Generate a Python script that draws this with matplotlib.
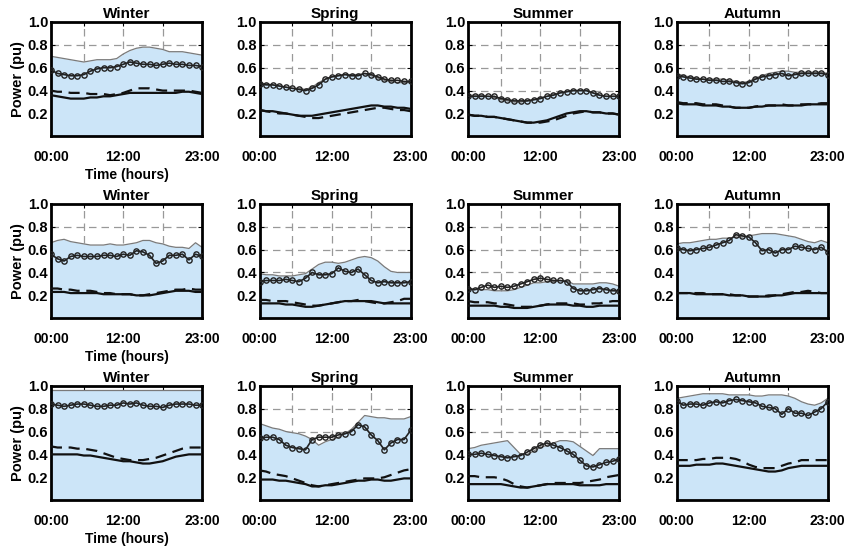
import numpy as np
import matplotlib
matplotlib.use('Agg')
from matplotlib import pyplot as plt

# Datos (24 horas, 00:00 - 23:00)
seasons = ['Winter', 'Spring', 'Summer', 'Autumn']
hours = np.arange(24)
xtick_pos = [0, 11, 23]
xtick_labels = ['00:00', '12:00', '23:00']
ytick_pos = [0.2, 0.4, 0.6, 0.8, 1.0]

# Fila 1
upper_row1 = [
    [0.70, 0.69, 0.68, 0.67, 0.66, 0.65, 0.66, 0.67, 0.67, 0.67, 0.68, 0.72, 0.75, 0.77, 0.78, 0.78, 0.77, 0.76, 0.74, 0.74, 0.74, 0.73, 0.72, 0.71],
    [0.46, 0.46, 0.45, 0.44, 0.43, 0.42, 0.42, 0.41, 0.43, 0.47, 0.50, 0.52, 0.53, 0.54, 0.54, 0.54, 0.55, 0.53, 0.51, 0.49, 0.48, 0.47, 0.47, 0.47],
    [0.36, 0.36, 0.36, 0.35, 0.34, 0.32, 0.31, 0.30, 0.30, 0.31, 0.32, 0.34, 0.35, 0.37, 0.38, 0.39, 0.40, 0.40, 0.40, 0.38, 0.36, 0.35, 0.35, 0.35],
    [0.55, 0.53, 0.52, 0.51, 0.50, 0.50, 0.50, 0.50, 0.49, 0.48, 0.47, 0.48, 0.51, 0.53, 0.55, 0.56, 0.57, 0.57, 0.56, 0.56, 0.56, 0.56, 0.56, 0.55],
]
circ_row1 = [
    [0.58, 0.55, 0.54, 0.53, 0.53, 0.54, 0.57, 0.59, 0.60, 0.60, 0.61, 0.63, 0.65, 0.64, 0.63, 0.63, 0.62, 0.63, 0.64, 0.63, 0.63, 0.62, 0.62, 0.61],
    [0.46, 0.45, 0.45, 0.44, 0.43, 0.42, 0.41, 0.40, 0.42, 0.45, 0.50, 0.52, 0.53, 0.54, 0.53, 0.53, 0.55, 0.54, 0.52, 0.50, 0.49, 0.49, 0.48, 0.48],
    [0.35, 0.35, 0.35, 0.35, 0.35, 0.33, 0.32, 0.31, 0.31, 0.31, 0.32, 0.33, 0.35, 0.36, 0.38, 0.39, 0.40, 0.40, 0.40, 0.38, 0.36, 0.35, 0.35, 0.35],
    [0.53, 0.52, 0.51, 0.50, 0.50, 0.49, 0.49, 0.48, 0.48, 0.47, 0.46, 0.47, 0.50, 0.52, 0.53, 0.54, 0.55, 0.53, 0.54, 0.55, 0.55, 0.55, 0.55, 0.54],
]
dash_row1 = [
    [0.40, 0.39, 0.39, 0.38, 0.38, 0.38, 0.37, 0.37, 0.37, 0.36, 0.37, 0.38, 0.40, 0.42, 0.42, 0.42, 0.41, 0.40, 0.40, 0.40, 0.40, 0.40, 0.39, 0.38],
    [0.23, 0.22, 0.21, 0.20, 0.20, 0.19, 0.18, 0.17, 0.16, 0.16, 0.17, 0.18, 0.19, 0.20, 0.21, 0.22, 0.23, 0.24, 0.25, 0.25, 0.24, 0.23, 0.23, 0.22],
    [0.19, 0.18, 0.18, 0.17, 0.17, 0.16, 0.15, 0.14, 0.13, 0.12, 0.12, 0.12, 0.13, 0.14, 0.16, 0.18, 0.20, 0.21, 0.22, 0.21, 0.21, 0.20, 0.20, 0.19],
    [0.30, 0.29, 0.29, 0.29, 0.28, 0.28, 0.28, 0.27, 0.26, 0.25, 0.25, 0.25, 0.26, 0.27, 0.27, 0.27, 0.28, 0.27, 0.27, 0.28, 0.28, 0.28, 0.29, 0.29],
]
solid_row1 = [
    [0.36, 0.35, 0.34, 0.33, 0.33, 0.33, 0.34, 0.34, 0.35, 0.35, 0.36, 0.37, 0.38, 0.38, 0.38, 0.38, 0.38, 0.38, 0.38, 0.38, 0.39, 0.39, 0.38, 0.37],
    [0.23, 0.22, 0.22, 0.21, 0.20, 0.19, 0.18, 0.18, 0.18, 0.19, 0.20, 0.21, 0.22, 0.23, 0.24, 0.25, 0.26, 0.27, 0.27, 0.26, 0.26, 0.25, 0.25, 0.24],
    [0.19, 0.18, 0.18, 0.17, 0.17, 0.16, 0.15, 0.14, 0.13, 0.12, 0.12, 0.13, 0.14, 0.16, 0.18, 0.20, 0.21, 0.22, 0.22, 0.21, 0.21, 0.20, 0.20, 0.19],
    [0.29, 0.28, 0.28, 0.28, 0.27, 0.27, 0.27, 0.26, 0.26, 0.25, 0.25, 0.25, 0.26, 0.26, 0.27, 0.27, 0.27, 0.27, 0.27, 0.27, 0.28, 0.28, 0.28, 0.28],
]

# Fila 2
upper_row2 = [
    [0.66, 0.68, 0.69, 0.67, 0.66, 0.65, 0.64, 0.64, 0.64, 0.65, 0.64, 0.64, 0.65, 0.66, 0.68, 0.68, 0.66, 0.65, 0.63, 0.62, 0.62, 0.61, 0.66, 0.62],
    [0.39, 0.38, 0.38, 0.37, 0.37, 0.37, 0.38, 0.39, 0.43, 0.47, 0.49, 0.49, 0.48, 0.49, 0.51, 0.53, 0.54, 0.53, 0.50, 0.45, 0.41, 0.40, 0.40, 0.40],
    [0.26, 0.25, 0.25, 0.25, 0.24, 0.24, 0.24, 0.25, 0.27, 0.29, 0.31, 0.31, 0.32, 0.32, 0.33, 0.33, 0.30, 0.30, 0.30, 0.30, 0.31, 0.31, 0.30, 0.28],
    [0.65, 0.66, 0.66, 0.67, 0.68, 0.69, 0.69, 0.70, 0.70, 0.71, 0.71, 0.72, 0.73, 0.74, 0.74, 0.74, 0.73, 0.72, 0.71, 0.69, 0.67, 0.66, 0.68, 0.66],
]
circ_row2 = [
    [0.56, 0.52, 0.50, 0.54, 0.55, 0.54, 0.54, 0.54, 0.55, 0.55, 0.54, 0.56, 0.55, 0.59, 0.58, 0.55, 0.48, 0.50, 0.55, 0.55, 0.56, 0.51, 0.56, 0.54],
    [0.32, 0.33, 0.33, 0.33, 0.34, 0.33, 0.32, 0.35, 0.40, 0.38, 0.38, 0.39, 0.44, 0.41, 0.40, 0.43, 0.38, 0.33, 0.31, 0.32, 0.31, 0.31, 0.31, 0.32],
    [0.26, 0.25, 0.27, 0.29, 0.27, 0.28, 0.27, 0.28, 0.30, 0.32, 0.34, 0.35, 0.34, 0.33, 0.33, 0.32, 0.26, 0.24, 0.24, 0.25, 0.26, 0.25, 0.24, 0.24],
    [0.61, 0.60, 0.59, 0.60, 0.61, 0.62, 0.64, 0.66, 0.68, 0.73, 0.72, 0.71, 0.66, 0.59, 0.60, 0.57, 0.60, 0.60, 0.63, 0.62, 0.61, 0.60, 0.62, 0.58],
]
dash_row2 = [
    [0.26, 0.26, 0.25, 0.25, 0.24, 0.24, 0.24, 0.23, 0.22, 0.22, 0.21, 0.21, 0.21, 0.20, 0.20, 0.21, 0.22, 0.23, 0.24, 0.25, 0.25, 0.26, 0.25, 0.25],
    [0.16, 0.16, 0.15, 0.15, 0.15, 0.14, 0.13, 0.12, 0.11, 0.11, 0.12, 0.13, 0.14, 0.15, 0.15, 0.16, 0.15, 0.14, 0.13, 0.13, 0.14, 0.15, 0.17, 0.17],
    [0.15, 0.14, 0.14, 0.14, 0.13, 0.13, 0.12, 0.11, 0.10, 0.10, 0.10, 0.11, 0.12, 0.13, 0.13, 0.13, 0.13, 0.12, 0.12, 0.13, 0.13, 0.14, 0.15, 0.15],
    [0.22, 0.22, 0.22, 0.22, 0.22, 0.21, 0.21, 0.21, 0.21, 0.20, 0.20, 0.19, 0.19, 0.19, 0.20, 0.20, 0.21, 0.22, 0.23, 0.23, 0.24, 0.23, 0.22, 0.22],
]
solid_row2 = [
    [0.23, 0.23, 0.23, 0.22, 0.22, 0.22, 0.22, 0.22, 0.21, 0.21, 0.21, 0.21, 0.21, 0.20, 0.20, 0.20, 0.21, 0.22, 0.23, 0.24, 0.24, 0.24, 0.23, 0.23],
    [0.13, 0.13, 0.13, 0.13, 0.12, 0.12, 0.11, 0.10, 0.10, 0.11, 0.12, 0.13, 0.14, 0.15, 0.15, 0.15, 0.15, 0.15, 0.14, 0.13, 0.13, 0.13, 0.13, 0.13],
    [0.11, 0.11, 0.11, 0.11, 0.11, 0.10, 0.10, 0.09, 0.09, 0.09, 0.10, 0.11, 0.12, 0.12, 0.12, 0.12, 0.11, 0.11, 0.10, 0.10, 0.11, 0.11, 0.11, 0.11],
    [0.22, 0.22, 0.22, 0.21, 0.21, 0.21, 0.21, 0.21, 0.20, 0.20, 0.20, 0.19, 0.19, 0.19, 0.19, 0.20, 0.20, 0.21, 0.22, 0.22, 0.22, 0.22, 0.22, 0.22],
]

# Fila 3
upper_row3 = [
    [0.96] * 24,
    [0.67, 0.65, 0.63, 0.62, 0.60, 0.59, 0.58, 0.56, 0.53, 0.48, 0.51, 0.53, 0.55, 0.58, 0.62, 0.68, 0.74, 0.73, 0.72, 0.72, 0.71, 0.71, 0.71, 0.73],
    [0.45, 0.46, 0.48, 0.49, 0.50, 0.51, 0.52, 0.46, 0.40, 0.40, 0.43, 0.46, 0.48, 0.50, 0.52, 0.52, 0.51, 0.47, 0.43, 0.39, 0.45, 0.45, 0.45, 0.45],
    [0.89, 0.90, 0.91, 0.92, 0.93, 0.93, 0.93, 0.93, 0.92, 0.92, 0.92, 0.92, 0.91, 0.91, 0.92, 0.92, 0.92, 0.91, 0.89, 0.86, 0.84, 0.83, 0.85, 0.89],
]
circ_row3 = [
    [0.84, 0.83, 0.82, 0.83, 0.84, 0.84, 0.83, 0.82, 0.82, 0.83, 0.83, 0.85, 0.84, 0.85, 0.83, 0.82, 0.82, 0.81, 0.83, 0.84, 0.84, 0.84, 0.83, 0.83],
    [0.54, 0.55, 0.55, 0.53, 0.48, 0.46, 0.45, 0.44, 0.53, 0.55, 0.55, 0.55, 0.57, 0.58, 0.60, 0.66, 0.64, 0.57, 0.52, 0.44, 0.50, 0.53, 0.53, 0.61],
    [0.40, 0.40, 0.41, 0.40, 0.39, 0.38, 0.37, 0.38, 0.39, 0.42, 0.45, 0.48, 0.50, 0.48, 0.46, 0.43, 0.40, 0.35, 0.30, 0.29, 0.31, 0.33, 0.34, 0.36],
    [0.87, 0.83, 0.84, 0.84, 0.83, 0.85, 0.86, 0.85, 0.87, 0.88, 0.87, 0.86, 0.85, 0.82, 0.81, 0.80, 0.75, 0.80, 0.76, 0.76, 0.74, 0.77, 0.80, 0.86],
]
dash_row3 = [
    [0.47, 0.46, 0.46, 0.46, 0.45, 0.45, 0.44, 0.43, 0.41, 0.39, 0.37, 0.36, 0.35, 0.35, 0.35, 0.36, 0.37, 0.39, 0.41, 0.43, 0.45, 0.46, 0.46, 0.46],
    [0.26, 0.25, 0.23, 0.22, 0.21, 0.19, 0.17, 0.15, 0.13, 0.12, 0.13, 0.14, 0.15, 0.16, 0.17, 0.18, 0.19, 0.19, 0.19, 0.20, 0.22, 0.24, 0.26, 0.27],
    [0.21, 0.21, 0.20, 0.20, 0.20, 0.19, 0.17, 0.14, 0.12, 0.11, 0.12, 0.13, 0.14, 0.15, 0.15, 0.15, 0.15, 0.15, 0.16, 0.17, 0.18, 0.20, 0.21, 0.22],
    [0.35, 0.35, 0.35, 0.35, 0.36, 0.36, 0.37, 0.37, 0.37, 0.36, 0.34, 0.31, 0.29, 0.28, 0.28, 0.28, 0.30, 0.32, 0.33, 0.35, 0.35, 0.35, 0.35, 0.35],
]
solid_row3 = [
    [0.40, 0.40, 0.40, 0.40, 0.40, 0.39, 0.39, 0.38, 0.37, 0.36, 0.35, 0.34, 0.34, 0.33, 0.32, 0.32, 0.33, 0.34, 0.36, 0.38, 0.39, 0.40, 0.40, 0.40],
    [0.18, 0.18, 0.18, 0.17, 0.17, 0.16, 0.15, 0.14, 0.12, 0.12, 0.13, 0.13, 0.14, 0.15, 0.16, 0.17, 0.17, 0.18, 0.18, 0.17, 0.17, 0.18, 0.19, 0.19],
    [0.14, 0.14, 0.14, 0.14, 0.14, 0.14, 0.13, 0.12, 0.11, 0.11, 0.12, 0.13, 0.14, 0.14, 0.14, 0.14, 0.14, 0.13, 0.13, 0.13, 0.13, 0.14, 0.14, 0.14],
    [0.30, 0.30, 0.30, 0.31, 0.31, 0.31, 0.32, 0.32, 0.31, 0.30, 0.29, 0.28, 0.27, 0.26, 0.25, 0.25, 0.26, 0.28, 0.29, 0.30, 0.30, 0.30, 0.30, 0.30],
]

upper_all = [upper_row1, upper_row2, upper_row3]
circ_all = [circ_row1, circ_row2, circ_row3]
dash_all = [dash_row1, dash_row2, dash_row3]
solid_all = [solid_row1, solid_row2, solid_row3]

plt.rcParams['font.family'] = ['Liberation Sans', 'DejaVu Sans']
plt.rcParams['font.weight'] = 'bold'

fill_color = '#cce5f8'

fig, axes = plt.subplots(3, 4, figsize=(8.49, 5.49), dpi=100)
fig.subplots_adjust(left=0.060, right=0.975, top=0.960, bottom=0.089,
                    wspace=0.38, hspace=0.59)

for r in range(3):
    for c in range(4):
        ax = axes[r, c]
        ax.set_axisbelow(True)
        ax.fill_between(hours, 0, upper_all[r][c], color=fill_color, lw=0, zorder=1)
        ax.plot(hours, upper_all[r][c], color='#7a7a7a', lw=0.9, zorder=2)
        ax.plot(hours, solid_all[r][c], color='#111111', lw=1.6, zorder=3)
        ax.plot(hours, dash_all[r][c], color='#111111', lw=1.6, ls=(0, (5, 3)), zorder=3)
        ax.plot(hours, circ_all[r][c], color='#222222', lw=1.2, marker='o', ms=3.8,
                mfc='none', mew=1.0, zorder=4)

        ax.set_xlim(0, 23)
        ax.set_ylim(0, 1.0)
        ax.set_xticks(xtick_pos)
        ax.set_xticklabels(xtick_labels)
        ax.set_xticks([5, 17], minor=True)
        ax.set_yticks(ytick_pos)
        ax.set_yticklabels([f'{v:.1f}' for v in ytick_pos])
        ax.grid(True, which='both', axis='x', color='#999999', ls=(0, (6, 4)), lw=0.9)
        ax.grid(True, which='major', axis='y', color='#999999', ls=(0, (6, 4)), lw=0.9)
        ax.tick_params(axis='both', which='both', direction='in', length=3,
                       top=True, right=True, width=0.8)
        ax.tick_params(axis='x', labelsize=10, pad=10)
        ax.tick_params(axis='y', labelsize=10.5, pad=2)
        for sp in ax.spines.values():
            sp.set_linewidth(2.0)
            sp.set_color('black')

        ax.set_title(seasons[c], fontsize=11, fontweight='bold', pad=3)
        if c == 0:
            ax.set_ylabel('Power (pu)', fontsize=10.5, fontweight='bold', labelpad=2)
            ax.set_xlabel('Time (hours)', fontsize=10, fontweight='bold', labelpad=3)

fig.savefig('out.png', dpi=100)
